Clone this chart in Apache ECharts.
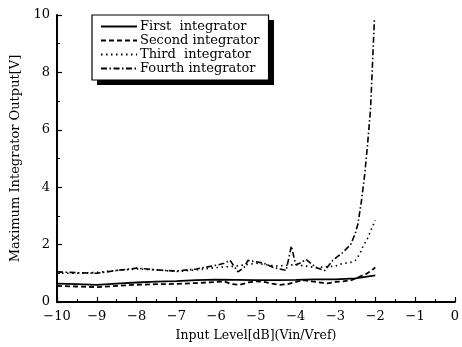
<!DOCTYPE html>
<html>
<head>
<meta charset="utf-8">
<script src="https://cdn.jsdelivr.net/npm/echarts@6/dist/echarts.min.js"></script>
<style>html,body{margin:0;padding:0;background:#fff}#c{width:462px;height:347px}</style>
</head>
<body>
<div id="c"></div>
<script>
const seriesNames = ['First  integrator', 'Second integrator', 'Third  integrator', 'Fourth integrator'];
const xTicks = [-10, -9, -8, -7, -6, -5, -4, -3, -2, -1, 0];
const yTicks = [0, 2, 4, 6, 8, 10];

const firstX = [-10,-9.5,-9,-8.5,-8,-7.5,-7,-6.5,-6,-5.5,-5,-4.5,-4,-3.5,-3,-2.5,-2];
const firstY = [0.64,0.62,0.60,0.64,0.68,0.71,0.73,0.76,0.78,0.77,0.76,0.76,0.77,0.79,0.79,0.82,0.93];

const secondX = [-10,-9.5,-9,-8.5,-8,-7.5,-7,-6.5,-6,-5.8,-5.6,-5.4,-5.2,-5,-4.8,-4.6,-4.4,-4.2,-4,-3.8,-3.6,-3.4,-3.2,-3,-2.8,-2.6,-2.4,-2.2,-2];
const secondY = [0.56,0.54,0.52,0.56,0.6,0.62,0.63,0.66,0.7,0.72,0.62,0.6,0.68,0.72,0.7,0.64,0.6,0.62,0.7,0.76,0.72,0.68,0.65,0.7,0.72,0.76,0.88,1.0,1.2];

const thirdX = [-10,-9.5,-9,-8.5,-8,-7.5,-7,-6.5,-6,-5.5,-5,-4.5,-4,-3.5,-3,-2.82,-2.62,-2.5,-2.4,-2.32,-2.2,-2.14,-2];
const thirdY = [1.0,1.0,1.03,1.1,1.15,1.12,1.06,1.12,1.2,1.25,1.35,1.25,1.3,1.2,1.25,1.34,1.38,1.45,1.65,1.9,2.2,2.4,2.85];

const fourthX = [-10,-9.5,-9,-8.5,-8,-7.5,-7,-6.5,-6,-5.8,-5.65,-5.45,-5.3,-5.2,-5,-4.8,-4.56,-4.24,-4.11,-4.0,-3.9,-3.74,-3.49,-3.27,-3.07,-2.82,-2.62,-2.5,-2.44,-2.35,-2.27,-2.2,-2.12,-2.02];
const fourthY = [1.05,1.02,1.0,1.1,1.18,1.12,1.08,1.15,1.28,1.35,1.45,1.05,1.2,1.45,1.4,1.35,1.2,1.1,1.95,1.3,1.35,1.48,1.2,1.1,1.45,1.72,2.0,2.4,2.7,3.5,4.4,5.4,6.7,9.9];

const pair = (xs, ys) => xs.map((x, i) => [x, ys[i]]);
const font = 'DejaVu Serif';
const styles = [
  {type: 'solid', width: 1.8},
  {type: [5, 3], width: 1.8},
  {type: [1.5, 3.5], width: 1.6},
  {type: [6, 2.5, 1.5, 2.5], width: 1.6}
];
const datas = [pair(firstX, firstY), pair(secondX, secondY), pair(thirdX, thirdY), pair(fourthX, fourthY)];

const chart = echarts.init(document.getElementById('c'), null, {renderer: 'canvas'});
chart.setOption({
  animation: false,
  backgroundColor: '#fff',
  grid: {left: 57, right: 4, top: 15, bottom: 42, containLabel: false},
  graphic: [{
    type: 'rect', z: 1, silent: true,
    shape: {x: 97, y: 20, width: 177, height: 65},
    style: {fill: '#000'}
  }],
  legend: {
    orient: 'vertical', left: 92, top: 15, z: 10,
    data: seriesNames,
    itemWidth: 36, itemHeight: 14, itemGap: 1,
    padding: [5, 9, 5, 8],
    backgroundColor: '#fff', borderColor: '#000', borderWidth: 1.2, borderRadius: 0,
    itemStyle: {color: 'transparent', borderWidth: 0, opacity: 0},
    textStyle: {fontFamily: font, fontSize: 13, color: '#000', padding: [0, 0, 0, -2]},
    selectedMode: false
  },
  xAxis: {
    type: 'value', min: -10, max: 0, interval: 1,
    name: 'Input Level[dB](Vin/Vref)', nameLocation: 'middle', nameGap: 27,
    nameTextStyle: {fontFamily: font, fontSize: 12.5, color: '#000'},
    axisLine: {show: true, onZero: false, lineStyle: {color: '#000', width: 2}},
    axisTick: {show: true, inside: true, length: 5, lineStyle: {color: '#000', width: 1.2}},
    minorTick: {show: true, splitNumber: 2, length: 3, lineStyle: {color: '#000'}},
    splitLine: {show: false},
    axisLabel: {fontFamily: font, fontSize: 13, color: '#000', margin: 8,
      formatter: v => v < 0 ? '\u2212' + Math.abs(v) : String(v)}
  },
  yAxis: {
    type: 'value', min: 0, max: 10, interval: 2,
    name: 'Maximum Integrator Output[V]', nameLocation: 'middle', nameGap: 34,
    nameTextStyle: {fontFamily: font, fontSize: 13, color: '#000'},
    axisLine: {show: true, onZero: false, lineStyle: {color: '#000', width: 2}},
    axisTick: {show: true, inside: true, length: 5, lineStyle: {color: '#000', width: 1.2}},
    minorTick: {show: true, splitNumber: 2, length: 3, lineStyle: {color: '#000'}},
    splitLine: {show: false},
    axisLabel: {fontFamily: font, fontSize: 13, color: '#000', margin: 7}
  },
  series: seriesNames.map((n, i) => ({
    name: n, type: 'line', data: datas[i], symbol: 'none', showSymbol: false,
    lineStyle: Object.assign({color: '#000'}, styles[i]),
    itemStyle: {color: '#000'},
    z: 2
  }))
});
</script>
</body>
</html>
